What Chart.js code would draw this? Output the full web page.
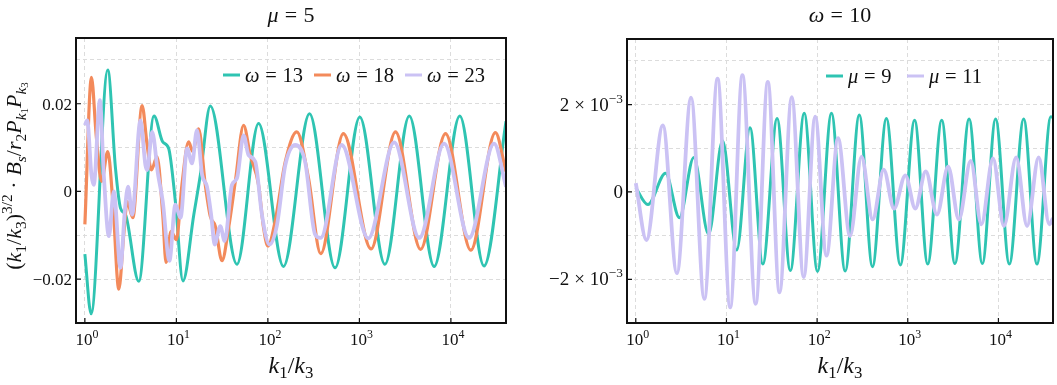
<!DOCTYPE html>
<html>
<head>
<meta charset="utf-8">
<script src="https://cdn.jsdelivr.net/npm/chart.js@4.4.1/dist/chart.umd.min.js"></script>
<style>
  body { margin: 0; background: #fff; }
  canvas { position: absolute; top: 0; }
</style>
</head>
<body>
<canvas id="left" width="530" height="385" style="left:0"></canvas>
<canvas id="right" width="527" height="385" style="left:530px"></canvas>
<script>
// values: peaks, troughs and kinks of each curve (x = k1/k3)
const w13K = [1.00, 1.17, 1.78, 2.16, 2.45, 2.78, 3.88, 5.70, 7.10, 8.24, 9.75, 11.8, 15.5, 18.3, 23.5, 45.9, 79.1, 148, 285, 542, 1010, 1900, 3510, 6560, 12500, 23000, 40000];
const w13V = [-0.0143, -0.0279, 0.0277, 0.0053, -0.0038, -0.0053, -0.0205, 0.0172, 0.0113, 0.0098, -0.0023, -0.0204, -0.0053, 0.0038, 0.0195, -0.0166, 0.0155, -0.0171, 0.0177, -0.0174, 0.0170, -0.0166, 0.0172, -0.0171, 0.0172, -0.0170, 0.0160];

const w18K = [1.00, 1.18, 1.33, 1.52, 1.78, 2.02, 2.35, 2.66, 2.90, 3.34, 4.22, 4.79, 5.33, 6.15, 7.10, 7.71, 8.75, 10.0, 11.5, 13.6, 15.1, 17.5, 20.7, 23.5, 26.6, 31.5, 37.2, 44.1, 54.3, 64.1, 79.1, 89.7, 100, 120, 155, 207, 278, 378, 668, 1340, 2480, 4660, 8730, 16500, 30600, 40000];
const w18V = [-0.0075, 0.026, 0.0128, 0.0023, 0.0091, -0.0023, -0.0223, -0.0098, -0.0023, -0.006, 0.0196, 0.0106, 0.0049, 0.0079, -0.0053, -0.0162, -0.0091, -0.011, 0.0015, 0.0113, 0.0091, 0.0143, 0.0015, -0.0057, -0.0079, -0.0158, -0.0083, 0.0023, 0.0151, 0.0083, 0.0015, -0.0083, -0.0125, -0.0068, 0.0068, 0.0136, 0.003, -0.0142, 0.0132, -0.0131, 0.0136, -0.0132, 0.0132, -0.0134, 0.0134, 0.0045];

const w23K = [1.00, 1.06, 1.18, 1.25, 1.46, 1.61, 1.83, 2.07, 2.45, 2.73, 2.97, 3.28, 4.05, 4.59, 4.79, 5.43, 6.31, 7.10, 8.39, 9.75, 11.1, 13.1, 14.8, 16.8, 19.1, 21.6, 24.1, 26.2, 30.2, 33.7, 40.5, 45.9, 54.3, 61.5, 72.8, 86.1, 104, 125, 155, 199, 255, 328, 378, 641, 1250, 2400, 4510, 8430, 15800, 29600, 40000];
const w23V = [0.0151, 0.0162, 0.0038, 0.0015, 0.0208, 0.0038, -0.0102, 0.0, -0.0174, -0.0045, 0.0011, -0.0053, 0.0162, 0.006, 0.0049, 0.0136, 0.0038, -0.0023, -0.0158, -0.003, -0.006, 0.0098, 0.0064, 0.014, 0.0038, 0.0011, -0.0057, -0.0121, -0.0079, -0.0113, 0.0015, 0.003, 0.0128, 0.0083, 0.0068, -0.0053, -0.0121, -0.0079, 0.006, 0.0106, 0.0068, -0.0098, -0.0106, 0.0106, -0.0107, 0.0112, -0.0106, 0.0109, -0.0106, 0.0109, 0.0011];

const m9K = [1.00, 1.36, 2.13, 3.03, 4.36, 6.35, 9.06, 13.0, 18.2, 25.2, 36.2, 50.7, 72.1, 101, 144, 204, 292, 408, 581, 828, 1190, 1660, 2370, 3310, 4750, 6650, 9310, 13200, 19000, 26600, 37900, 40000];
const m9V = [0.00009, -0.00029, 0.00043, -0.00059, 0.00079, -0.00097, 0.00117, -0.00133, 0.00147, -0.00165, 0.00168, -0.0018, 0.0018, -0.00182, 0.0018, -0.00181, 0.00176, -0.00171, 0.00168, -0.00167, 0.00164, -0.00165, 0.00164, -0.00164, 0.00167, -0.00164, 0.00167, -0.00165, 0.00167, -0.00165, 0.00172, 0.0017];

const m11K = [1.00, 1.31, 1.99, 2.84, 4.07, 5.70, 7.98, 11.0, 15.0, 21.0, 28.6, 38.5, 52.5, 71.1, 95.3, 127, 170, 231, 309, 410, 543, 705, 940, 1210, 1580, 2100, 2790, 3660, 4950, 6490, 8710, 11500, 15700, 20700, 27800, 36400, 40000];
const m11V = [0.0002, -0.0011, 0.00152, -0.00186, 0.00216, -0.00245, 0.00259, -0.00264, 0.00267, -0.00256, 0.00252, -0.0023, 0.00217, -0.00195, 0.00172, -0.00146, 0.00123, -0.00101, 0.00081, -0.00063, 0.00051, -0.00038, 0.00038, -0.00038, 0.00047, -0.00052, 0.00058, -0.00063, 0.00071, -0.00074, 0.00077, -0.00078, 0.00079, -0.00078, 0.00079, -0.00074, -0.0006];

const xTicks = [1, 10, 100, 1000, 10000];
const leftGrid = [-0.03, -0.02, -0.01, 0, 0.01, 0.02, 0.03];
const leftLabels = [-0.02, 0, 0.02];
const rightGrid = [-0.003, -0.002, -0.001, 0, 0.001, 0.002, 0.003];
const rightLabels = [-0.002, 0, 0.002];

const TEAL = '#2fc4b2', ORANGE = '#f38a5b', LILAC = '#cbc2f4';
const GRID = '#dcdcdc';
const SERIF = '"Liberation Serif", "DejaVu Serif", serif';

// parts: [text, flags]; i = italic, _ = sub, ^ = sup, = = sub of sub,
// r = relation spacing, b = binary-operator spacing
function drawMath(ctx, parts, x, y, size, align) {
  const runs = parts.map(([t, f]) => {
    const lvl = f.includes('=') ? 3 : f.includes('^') ? 2 : f.includes('_') ? 1 : 0;
    const s = size * [1, 0.7, 0.7, 0.5][lvl];
    const font = (f.includes('i') ? 'italic ' : '') + s.toFixed(1) + 'px ' + SERIF;
    const pad = f.includes('r') ? 0.28 * s : f.includes('b') ? 0.26 * s : 0;
    ctx.font = font;
    return {t, font, pad, w: ctx.measureText(t).width + 2 * pad, dy: size * [0, 0.22, -0.42, 0.34][lvl]};
  });
  const total = runs.reduce((a, r) => a + r.w, 0);
  let cx = align === 'center' ? x - total / 2 : align === 'right' ? x - total : x;
  ctx.textAlign = 'left';
  ctx.textBaseline = 'alphabetic';
  ctx.fillStyle = '#111';
  runs.forEach(r => { ctx.font = r.font; ctx.fillText(r.t, cx + r.pad, y + r.dy); cx += r.w; });
  return total;
}

const kLabel = [['k', 'i'], ['1', '_'], ['/', ''], ['k', 'i'], ['3', '_']];
const yTitle = [['(', ''], ['k', 'i'], ['1', '_'], ['/', ''], ['k', 'i'], ['3', '_'], [')', ''], ['3/2', '^'],
  ['·', 'b'], ['B', 'i'], ['s', 'i_'], ['/', ''], ['r', 'i'], ['2', '_'], ['P', 'i'], ['k', 'i_'], ['1', '='],
  ['P', 'i'], ['k', 'i_'], ['3', '=']];

function leftTick(v) {
  if (v === 0) return [['0', '']];
  return [[(v < 0 ? '−' : '') + Math.abs(v).toFixed(2), '']];
}
function rightTick(v) {
  if (v === 0) return [['0', '']];
  return [[(v < 0 ? '−' : '') + '2', ''], ['×', 'b'], ['10', ''], ['−3', '^']];
}

function panel(id, sets, o) {
  const datasets = sets.map(s => ({
    label: s.label,
    data: s.k.map((k, i) => ({x: k, y: s.v[i]})),
    borderColor: s.color,
    borderWidth: s.width,
    order: s.order,
    pointRadius: 0,
    fill: false,
    cubicInterpolationMode: 'monotone'
  }));

  const deco = {
    id: 'deco',
    afterDatasetsDraw(chart) {
      const ctx = chart.ctx, a = chart.chartArea;
      const sx = chart.scales.x, sy = chart.scales.y;
      ctx.save();
      ctx.strokeStyle = '#111';
      ctx.lineWidth = 1.2;
      ctx.beginPath();
      xTicks.forEach(v => { const p = sx.getPixelForValue(v); ctx.moveTo(p, a.bottom); ctx.lineTo(p, a.bottom - 5); });
      o.labels.forEach(v => { const p = sy.getPixelForValue(v); ctx.moveTo(a.left, p); ctx.lineTo(a.left + 5, p); });
      ctx.stroke();
      ctx.lineWidth = 2;
      ctx.strokeRect(a.left, a.top, a.right - a.left, a.bottom - a.top);
      ctx.restore();
    },
    afterDraw(chart) {
      const ctx = chart.ctx, a = chart.chartArea;
      const sx = chart.scales.x, sy = chart.scales.y;
      const mid = (a.left + a.right) / 2;
      ctx.save();
      drawMath(ctx, o.title, mid, 22, 22, 'center');
      drawMath(ctx, kLabel, mid, 373, 24, 'center');
      xTicks.forEach((v, i) => drawMath(ctx, [['10', ''], [String(i), '^']], sx.getPixelForValue(v) + 2, 345, 17, 'center'));
      o.labels.forEach(v => drawMath(ctx, o.tick(v), a.left - 4, sy.getPixelForValue(v) + 6, o.tickSize, 'right'));
      // legend
      sets.forEach((s, i) => {
        const lx = o.legendX[i], ly = o.legendY;
        ctx.strokeStyle = s.color;
        ctx.lineWidth = 3;
        ctx.beginPath();
        ctx.moveTo(lx, ly);
        ctx.lineTo(lx + 17, ly);
        ctx.stroke();
        drawMath(ctx, s.legend, lx + 22, ly + 6.5, 20.5, 'left');
      });
      if (o.yTitle) {
        ctx.translate(21, 176);
        ctx.rotate(-Math.PI / 2);
        drawMath(ctx, o.yTitle, 0, 0, 22, 'center');
      }
      ctx.restore();
    }
  };

  return new Chart(document.getElementById(id), {
    type: 'line',
    data: {datasets},
    options: {
      responsive: false,
      animation: false,
      events: [],
      layout: {padding: o.pad},
      plugins: {legend: {display: false}, tooltip: {enabled: false}},
      scales: {
        x: {
          type: 'logarithmic', min: 0.8, max: 40000,
          afterBuildTicks: sc => { sc.ticks = xTicks.map(v => ({value: v})); },
          afterFit: sc => { sc.height = 0; },
          ticks: {display: false},
          grid: {color: GRID, lineWidth: 1, drawTicks: false},
          border: {display: false, dash: [4, 3]}
        },
        y: {
          type: 'linear', min: o.grid[0], max: o.ymax,
          afterBuildTicks: sc => { sc.ticks = o.grid.map(v => ({value: v})); },
          afterFit: sc => { sc.width = 0; },
          ticks: {display: false},
          grid: {color: GRID, lineWidth: 1, drawTicks: false},
          border: {display: false, dash: [4, 3]}
        }
      }
    },
    plugins: [deco]
  });
}

panel('left', [
  {label: 'ω = 13', k: w13K, v: w13V, color: TEAL, width: 3, order: 2, legend: [['ω', 'i'], ['=', 'r'], ['13', '']]},
  {label: 'ω = 18', k: w18K, v: w18V, color: ORANGE, width: 3.2, order: 1, legend: [['ω', 'i'], ['=', 'r'], ['18', '']]},
  {label: 'ω = 23', k: w23K, v: w23V, color: LILAC, width: 3.8, order: 0, legend: [['ω', 'i'], ['=', 'r'], ['23', '']]}
], {
  pad: {left: 76, right: 24, top: 38, bottom: 62},
  grid: leftGrid, ymax: 0.035, labels: leftLabels, tick: leftTick, tickSize: 17,
  title: [['μ', 'i'], ['=', 'r'], ['5', '']], legendX: [223, 314, 405], legendY: 75, yTitle: yTitle
});

panel('right', [
  {label: 'μ = 9', k: m9K, v: m9V, color: TEAL, width: 3, order: 1, legend: [['μ', 'i'], ['=', 'r'], ['9', '']]},
  {label: 'μ = 11', k: m11K, v: m11V, color: LILAC, width: 3.8, order: 0, legend: [['μ', 'i'], ['=', 'r'], ['11', '']]}
], {
  pad: {left: 97, right: 4, top: 39, bottom: 62},
  grid: rightGrid, ymax: 0.0035, labels: rightLabels, tick: rightTick, tickSize: 19,
  title: [['ω', 'i'], ['=', 'r'], ['10', '']], legendX: [296, 377], legendY: 76
});
</script>
</body>
</html>
